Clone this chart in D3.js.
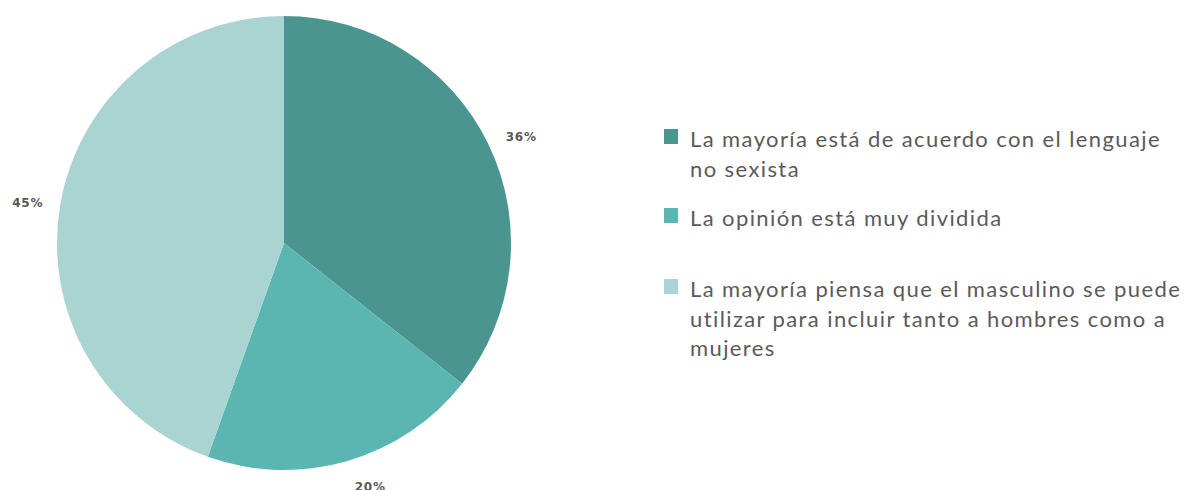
<!DOCTYPE html>
<html>
<head>
<meta charset="utf-8">
<script src="https://cdn.jsdelivr.net/npm/d3@7"></script>
<style>
  html, body { margin: 0; padding: 0; background: #fff; }
  svg { display: block; }
  .legend text { font-family: Lato, "Open Sans", sans-serif; font-size: 22px; letter-spacing: 1.4px; fill: #5a5a5a; }
  .pct { font-family: "DejaVu Sans", sans-serif; font-size: 12px; font-weight: bold; letter-spacing: 0.8px; fill: #585858; }
</style>
</head>
<body>
<svg id="chart" width="1189" height="490"></svg>
<script>
// chart values
const categories = [
    ['La mayoría está de acuerdo con el lenguaje', 'no sexista'],
    ['La opinión está muy dividida'],
    ['La mayoría piensa que el masculino se puede', 'utilizar para incluir tanto a hombres como a', 'mujeres']
];
const values = [36, 20, 45];
const labels = ['36%', '20%', '45%'];
const colors = ['#4a958f', '#5bb6b1', '#a9d4d1'];

const svg = d3.select('#chart');
const cx = 284, cy = 243, radius = 227;

const pie = d3.pie().sort(null).value(d => d);
const arc = d3.arc().innerRadius(0).outerRadius(radius);
const labelArc = d3.arc().innerRadius(258).outerRadius(258);
// small nudges so labels sit where the original put them
const nudge = [[5, 6], [15, -4], [-2, 4]];

const g = svg.append('g').attr('transform', `translate(${cx},${cy})`);
const arcs = pie(values);

g.selectAll('path')
    .data(arcs)
    .join('path')
    .attr('d', arc)
    .attr('fill', (d, i) => colors[i]);

g.selectAll('.pct')
    .data(arcs)
    .join('text')
    .attr('class', 'pct')
    .attr('text-anchor', 'middle')
    .attr('dy', '0.35em')
    .attr('transform', (d, i) => {
        const [x, y] = labelArc.centroid(d);
        return `translate(${x + nudge[i][0]},${y + nudge[i][1]})`;
    })
    .text((d, i) => labels[i]);

// legend
const legendTops = [147, 226, 297];
const legend = svg.append('g').attr('class', 'legend');
const items = legend.selectAll('g')
    .data(categories)
    .join('g')
    .attr('transform', (d, i) => `translate(664,${legendTops[i]})`);

items.append('rect')
    .attr('x', 0).attr('y', -18)
    .attr('width', 14).attr('height', 15)
    .attr('fill', (d, i) => colors[i]);

items.append('text')
    .selectAll('tspan')
    .data(d => d)
    .join('tspan')
    .attr('x', 26)
    .attr('y', (d, j) => j * 29.5)
    .text(d => d);
</script>
</body>
</html>
